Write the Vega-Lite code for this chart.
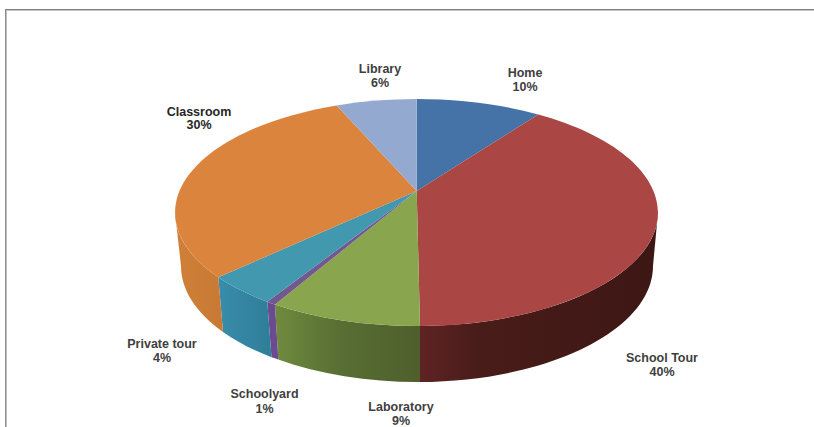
{
"$schema":"https://vega.github.io/schema/vega-lite/v6.json",
"width":814,"height":427,"padding":0,"autosize":"none","background":"#ffffff",
"config":{"view":{"stroke":null}},
"data":{"values":[
{"slice":"Home","value":10},
{"slice":"School Tour","value":40},
{"slice":"Laboratory","value":9},
{"slice":"Schoolyard","value":1},
{"slice":"Private tour","value":4},
{"slice":"Classroom","value":30},
{"slice":"Library","value":6}
]},
"transform":[{"calculate":"datum.slice + '\\n' + datum.value + '%'","as":"label"}],
"layer":[
{"data":{"values":[{"edge":"top"}]},"mark":{"type":"rule","color":"#808080","strokeWidth":1},
 "encoding":{"x":{"datum":5,"type":"quantitative","scale":{"domain":[0,814],"range":[0,814],"zero":false,"nice":false},"axis":null},"x2":{"datum":814},"y":{"datum":9.5,"type":"quantitative","scale":{"domain":[0,427],"range":[0,427],"zero":false,"nice":false},"axis":null}}},
{"data":{"values":[{"edge":"top2"}]},"mark":{"type":"rule","color":"#c6c6c6","strokeWidth":1},
 "encoding":{"x":{"datum":6,"type":"quantitative","axis":null},"x2":{"datum":814},"y":{"datum":10.5,"type":"quantitative","axis":null}}},
{"data":{"values":[{"edge":"left"}]},"mark":{"type":"rule","color":"#8f8f8f","strokeWidth":1},
 "encoding":{"x":{"datum":5.5,"type":"quantitative","axis":null},"y":{"datum":9,"type":"quantitative","axis":null},"y2":{"datum":427}}},
{"data":{"values":[{"edge":"left2"}]},"mark":{"type":"rule","color":"#bdbdbd","strokeWidth":1},
 "encoding":{"x":{"datum":6.5,"type":"quantitative","axis":null},"y":{"datum":10,"type":"quantitative","axis":null},"y2":{"datum":427}}},
{"transform":[{"filter":"datum.slice=='School Tour'"}],
 "mark":{"type":"point","filled":true,"size":4,"opacity":1,"color":{"gradient":"linear","x1":0,"y1":0,"x2":1,"y2":0,"stops":[{"offset":0,"color":"#5f2323"},{"offset":0.25,"color":"#481c19"},{"offset":1,"color":"#3d1714"}]}},
 "encoding":{"x":{"datum":416.5,"type":"quantitative","axis":null},"y":{"datum":212.5,"type":"quantitative","axis":null},
  "shape":{"field":"slice","type":"nominal","legend":null,"scale":{"domain":["School Tour"],"range":["M241.5,0 A241.5,113.5 0 0 1 3.5,113.5 L3.5,169.5 A236,116 0 0 0 236.5,53.5 Z"]}}}},
{"transform":[{"filter":"datum.slice=='Laboratory'"}],
 "mark":{"type":"point","filled":true,"size":4,"opacity":1,"color":{"gradient":"linear","x1":0,"y1":0,"x2":1,"y2":0,"stops":[{"offset":0,"color":"#6f8b3e"},{"offset":0.45,"color":"#586e33"},{"offset":1,"color":"#4e5f2c"}]}},
 "encoding":{"x":{"datum":416.5,"type":"quantitative","axis":null},"y":{"datum":212.5,"type":"quantitative","axis":null},
  "shape":{"field":"slice","type":"nominal","legend":null,"scale":{"domain":["Laboratory"],"range":["M3.5,113.5 A241.5,113.5 0 0 1 -141.5,92 L-138.2,147 A236,116 0 0 0 3.5,169.5 Z"]}}}},
{"transform":[{"filter":"datum.slice=='Schoolyard'"}],
 "mark":{"type":"point","filled":true,"size":4,"opacity":1,"color":"#6b4a8f"},
 "encoding":{"x":{"datum":416.5,"type":"quantitative","axis":null},"y":{"datum":212.5,"type":"quantitative","axis":null},
  "shape":{"field":"slice","type":"nominal","legend":null,"scale":{"domain":["Schoolyard"],"range":["M-141.5,92 A241.5,113.5 0 0 1 -149.2,89.2 L-145,144.8 A236,116 0 0 0 -138.2,147 Z"]}}}},
{"transform":[{"filter":"datum.slice=='Private tour'"}],
 "mark":{"type":"point","filled":true,"size":4,"opacity":1,"color":{"gradient":"linear","x1":0,"y1":0,"x2":1,"y2":0,"stops":[{"offset":0,"color":"#398cab"},{"offset":1,"color":"#2e7e98"}]}},
 "encoding":{"x":{"datum":416.5,"type":"quantitative","axis":null},"y":{"datum":212.5,"type":"quantitative","axis":null},
  "shape":{"field":"slice","type":"nominal","legend":null,"scale":{"domain":["Private tour"],"range":["M-149.2,89.2 A241.5,113.5 0 0 1 -198.2,64.8 L-193.5,119.5 A236,116 0 0 0 -145,144.8 Z"]}}}},
{"transform":[{"filter":"datum.slice=='Classroom'"}],
 "mark":{"type":"point","filled":true,"size":4,"opacity":1,"color":{"gradient":"linear","x1":0,"y1":0,"x2":1,"y2":0,"stops":[{"offset":0,"color":"#cf7f38"},{"offset":1,"color":"#c87a34"}]}},
 "encoding":{"x":{"datum":416.5,"type":"quantitative","axis":null},"y":{"datum":212.5,"type":"quantitative","axis":null},
  "shape":{"field":"slice","type":"nominal","legend":null,"scale":{"domain":["Classroom"],"range":["M-198.2,64.8 A241.5,113.5 0 0 1 -241.5,0 L-235.5,53.5 A236,116 0 0 0 -193.5,119.5 Z"]}}}},
{"mark":{"type":"point","filled":true,"size":4,"opacity":1},
 "encoding":{
  "x":{"datum":416.5,"type":"quantitative","axis":null},
  "y":{"datum":212.5,"type":"quantitative","axis":null},
  "shape":{"field":"slice","type":"nominal","legend":null,"scale":{
    "domain":["Home","School Tour","Laboratory","Schoolyard","Private tour","Classroom","Library"],
    "range":[
     "M0.2,-21.5 L0.2,-113.5 A241.5,113.5 0 0 1 121.8,-98 Z",
     "M0.2,-21.5 L121.8,-98 A241.5,113.5 0 0 1 3.5,113.5 Z",
     "M0.2,-21.5 L3.5,113.5 A241.5,113.5 0 0 1 -141.5,92 Z",
     "M0.2,-21.5 L-141.5,92 A241.5,113.5 0 0 1 -149.2,89.2 Z",
     "M0.2,-21.5 L-149.2,89.2 A241.5,113.5 0 0 1 -198.2,64.8 Z",
     "M0.2,-21.5 L-198.2,64.8 A241.5,113.5 0 0 1 -79.8,-107.1 Z",
     "M0.2,-21.5 L-79.8,-107.1 A241.5,113.5 0 0 1 0.2,-113.5 Z"
    ]}},
  "color":{"field":"slice","type":"nominal","legend":null,"scale":{
    "domain":["Home","School Tour","Laboratory","Schoolyard","Private tour","Classroom","Library"],
    "range":["#4572a7","#aa4643","#89a54e","#71588f","#4198af","#db843d","#93a9cf"]}}
 }},
{"transform":[{"filter":"datum.slice=='Home'"}],"mark":{"type":"text","font":"Liberation Sans","fontWeight":"bold","fontSize":12.5,"lineHeight":14,"lineBreak":"\n","align":"center","baseline":"middle","color":"#404040"},
 "encoding":{"text":{"field":"label"},"x":{"datum":525,"type":"quantitative","axis":null},"y":{"datum":73,"type":"quantitative","axis":null}}},
{"transform":[{"filter":"datum.slice=='Library'"}],"mark":{"type":"text","font":"Liberation Sans","fontWeight":"bold","fontSize":12.5,"lineHeight":14,"lineBreak":"\n","align":"center","baseline":"middle","color":"#404040"},
 "encoding":{"text":{"field":"label"},"x":{"datum":380,"type":"quantitative","axis":null},"y":{"datum":69,"type":"quantitative","axis":null}}},
{"transform":[{"filter":"datum.slice=='Classroom'"}],"mark":{"type":"text","font":"Liberation Sans","fontWeight":"bold","fontSize":12.5,"lineHeight":12.5,"lineBreak":"\n","align":"center","baseline":"middle","color":"#262626"},
 "encoding":{"text":{"field":"label"},"x":{"datum":199,"type":"quantitative","axis":null},"y":{"datum":112,"type":"quantitative","axis":null}}},
{"transform":[{"filter":"datum.slice=='Private tour'"}],"mark":{"type":"text","font":"Liberation Sans","fontWeight":"bold","fontSize":12.5,"lineHeight":14,"lineBreak":"\n","align":"center","baseline":"middle","color":"#404040"},
 "encoding":{"text":{"field":"label"},"x":{"datum":162,"type":"quantitative","axis":null},"y":{"datum":344,"type":"quantitative","axis":null}}},
{"transform":[{"filter":"datum.slice=='Schoolyard'"}],"mark":{"type":"text","font":"Liberation Sans","fontWeight":"bold","fontSize":12.5,"lineHeight":15,"lineBreak":"\n","align":"center","baseline":"middle","color":"#404040"},
 "encoding":{"text":{"field":"label"},"x":{"datum":264.5,"type":"quantitative","axis":null},"y":{"datum":394,"type":"quantitative","axis":null}}},
{"transform":[{"filter":"datum.slice=='Laboratory'"}],"mark":{"type":"text","font":"Liberation Sans","fontWeight":"bold","fontSize":12.5,"lineHeight":14,"lineBreak":"\n","align":"center","baseline":"middle","color":"#404040"},
 "encoding":{"text":{"field":"label"},"x":{"datum":401,"type":"quantitative","axis":null},"y":{"datum":407,"type":"quantitative","axis":null}}},
{"transform":[{"filter":"datum.slice=='School Tour'"}],"mark":{"type":"text","font":"Liberation Sans","fontWeight":"bold","fontSize":12.5,"lineHeight":14,"lineBreak":"\n","align":"center","baseline":"middle","color":"#404040"},
 "encoding":{"text":{"field":"label"},"x":{"datum":662,"type":"quantitative","axis":null},"y":{"datum":358,"type":"quantitative","axis":null}}}
],
"resolve":{"scale":{"shape":"independent","color":"independent"}}
}
